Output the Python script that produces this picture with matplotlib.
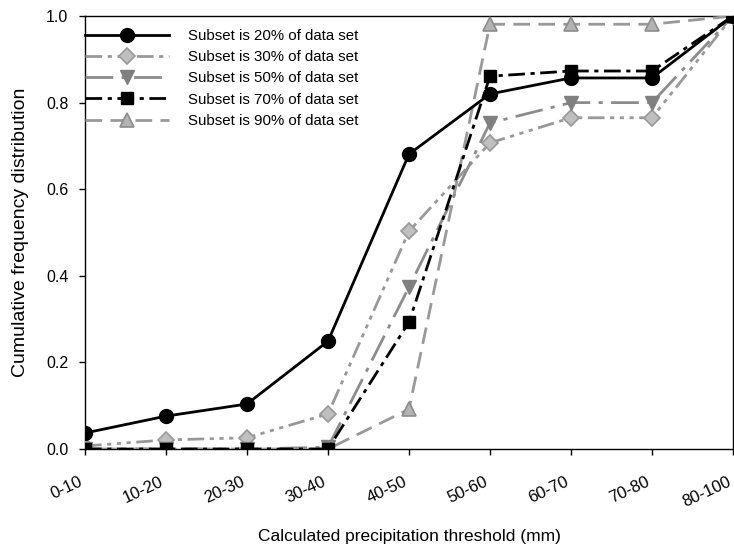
import matplotlib
matplotlib.use("Agg")
import matplotlib.pyplot as plt
from matplotlib.transforms import ScaledTranslation

categories = ["0-10", "10-20", "20-30", "30-40", "40-50", "50-60", "60-70", "70-80", "80-100"]
subset_20 = [0.037, 0.076, 0.104, 0.249, 0.681, 0.820, 0.857, 0.857, 1.0]
subset_30 = [0.007, 0.021, 0.026, 0.081, 0.503, 0.707, 0.765, 0.765, 1.0]
subset_50 = [0.0, 0.0, 0.0, 0.004, 0.374, 0.753, 0.800, 0.800, 1.0]
subset_70 = [0.0, 0.0, 0.0, 0.0, 0.293, 0.861, 0.873, 0.873, 1.0]
subset_90 = [0.0, 0.0, 0.0, 0.0, 0.092, 0.981, 0.981, 0.981, 1.0]
labels = ["Subset is 20% of data set", "Subset is 30% of data set",
          "Subset is 50% of data set", "Subset is 70% of data set",
          "Subset is 90% of data set"]

plt.rcParams["font.family"] = ["Liberation Sans", "DejaVu Sans"]

fig = plt.figure(figsize=(7.34, 5.45), dpi=100)
ax = fig.add_axes([0.1158, 0.1761, 0.8828, 0.7945])
x = list(range(len(categories)))

ax.plot(x, subset_20, color="black", lw=2.0, marker="o", ms=10,
        mfc="black", mec="black", label=labels[0], zorder=5)
ax.plot(x, subset_30, color="#999999", lw=2.0, linestyle=(0, (6, 2, 1.5, 2, 1.5, 2, 1.5, 2)),
        marker="D", ms=8.5, mfc="#bfbfbf", mec="#999999", mew=1.2, label=labels[1], zorder=4)
ax.plot(x, subset_50, color="#8c8c8c", lw=2.0, linestyle=(0, (10, 3, 1.5, 3)),
        marker="v", ms=9.5, mfc="#808080", mec="#808080", label=labels[2], zorder=4)
ax.plot(x, subset_70, color="black", lw=2.0, linestyle=(0, (6, 2, 1.5, 2)),
        marker="s", ms=8.5, mfc="black", mec="black", label=labels[3], zorder=6)
ax.plot(x, subset_90, color="#999999", lw=2.0, linestyle=(0, (6, 3)),
        marker="^", ms=9.5, mfc="#b3b3b3", mec="#8c8c8c", mew=1.2, label=labels[4], zorder=3)

ax.set_xlim(0, 8)
ax.set_ylim(0, 1.0)
ax.set_xticks(x)
ax.set_xticklabels(categories, rotation=25, ha="right", fontsize=12)
shift = ScaledTranslation(-4 / 100, 0, fig.dpi_scale_trans)
for lbl in ax.get_xticklabels():
    lbl.set_transform(lbl.get_transform() + shift)
ax.set_yticks([0.0, 0.2, 0.4, 0.6, 0.8, 1.0])
ax.set_yticklabels(["0.0", "0.2", "0.4", "0.6", "0.8", "1.0"], fontsize=11.5)
ax.tick_params(axis="x", direction="out", length=4, width=1, pad=14)
ax.tick_params(axis="y", direction="out", length=4, width=1, pad=8)
for s in ax.spines.values():
    s.set_linewidth(1.0)

ax.set_xlabel("Calculated precipitation threshold (mm)", fontsize=12.5, labelpad=14)
ax.set_ylabel("Cumulative frequency distribution", fontsize=14, labelpad=12)

leg = ax.legend(loc="upper left", frameon=False, fontsize=10.8, handlelength=5.6,
                handletextpad=1.3, labelspacing=0.48, borderaxespad=0.0,
                borderpad=0.0, bbox_to_anchor=(0.0, 0.97))

fig.savefig("out.png", dpi=100)
